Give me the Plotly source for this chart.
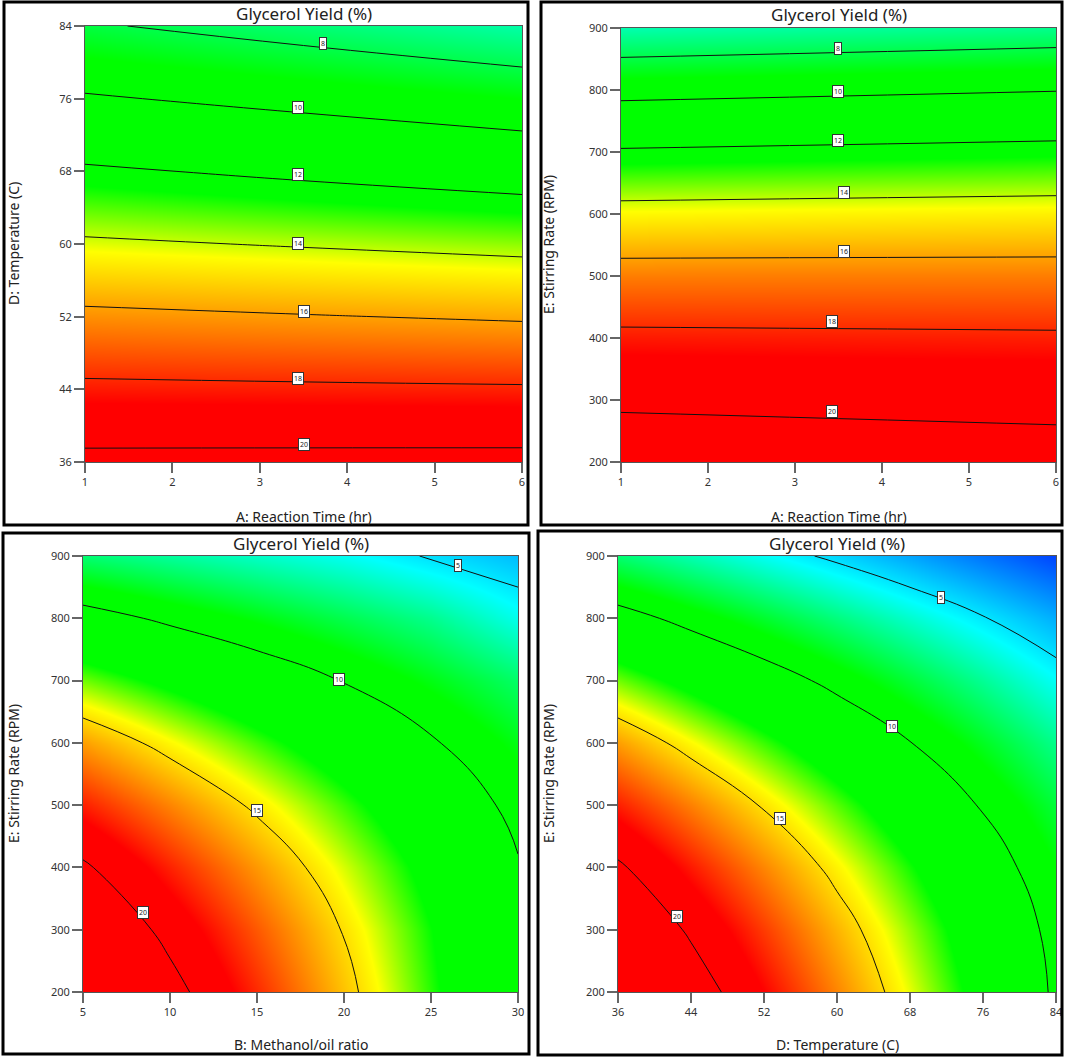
import plotly.graph_objs as go
from plotly.subplots import make_subplots

W, H = 1065, 1058

## values
time_vals = [1, 3.5, 6]
temp_vals = [36, 44, 52, 60, 68, 76, 84]
stir_vals = [200, 300, 400, 500, 600, 700, 800, 900]
ratio_vals = [5, 10, 15, 20, 25, 30]

# rows follow the y axis, columns the x axis
z_time_temp = [
    [20.4, 20.43, 20.45],
    [18.3, 18.22, 18.15],
    [16.3, 16.07, 15.85],
    [14.2, 13.9, 13.6],
    [12.2, 11.72, 11.25],
    [10.15, 9.58, 9.0],
    [8.14, 7.42, 6.7],
]
z_time_stir = [
    [20.8, 20.7, 20.6],
    [19.8, 19.7, 19.6],
    [18.3, 18.25, 18.2],
    [16.6, 16.6, 16.6],
    [14.5, 14.58, 14.65],
    [12.15, 12.3, 12.45],
    [9.55, 9.75, 9.95],
    [6.6, 6.85, 7.1],
]
z_ratio_stir = [
    [23.16, 20.58, 18.01, 15.43, 12.86, 10.28],
    [21.80, 19.51, 17.22, 14.92, 12.63, 10.34],
    [20.25, 18.14, 16.13, 14.11, 12.10, 10.12],
    [18.20, 16.47, 14.74, 13.02, 11.29, 9.56],
    [16.05, 14.51, 13.06, 11.62, 10.17, 8.72],
    [13.42, 12.26, 11.09, 9.93, 8.76, 7.60],
    [10.68, 9.70, 8.82, 7.94, 7.06, 5.75],
    [7.46, 6.86, 6.26, 5.66, 4.90, 4.25],
]
z_temp_stir = [
    [23.16, 20.93, 18.69, 16.46, 14.23, 11.99, 9.76],
    [21.80, 19.76, 17.71, 15.67, 13.63, 11.58, 9.54],
    [20.25, 18.29, 16.44, 14.58, 12.72, 10.87, 9.01],
    [18.20, 16.54, 14.87, 13.20, 11.53, 9.86, 8.20],
    [16.05, 14.48, 13.00, 11.52, 10.04, 8.56, 7.08],
    [13.42, 12.13, 10.84, 9.55, 8.26, 6.97, 5.60],
    [10.68, 9.48, 8.38, 7.28, 6.18, 5.08, 3.97],
    [7.46, 6.55, 5.63, 4.72, 3.81, 2.89, 1.98],
]

time_ticks = [1, 2, 3, 4, 5, 6]
temp_ticks = [36, 44, 52, 60, 68, 76, 84]
stir_ticks = [200, 300, 400, 500, 600, 700, 800, 900]
ratio_ticks = [5, 10, 15, 20, 25, 30]

## colour bands of the yield scale
zmin, zmax = 0.7, 23.5
stops = [(0.7, "#0000ff"), (5.5, "#00ffff"), (9.0, "#00ff00"), (12.6, "#00ff00"),
         (14.4, "#ffff00"), (18.7, "#ff0000"), (23.5, "#ff0000")]
scale = [[(v - zmin) / (zmax - zmin), c] for v, c in stops]

## one entry per panel: pixel boxes, then data
panels = [
    dict(box=(85, 26, 522, 462), frame=(4, 2, 528, 525), x=time_vals, y=temp_vals, z=z_time_temp,
         xticks=time_ticks, yticks=temp_ticks, xtitle="A: Reaction Time (hr)", ytitle="D: Temperature (C)",
         levels=(8, 20, 2), title_y=13, xtitle_y=516, ytitle_x=14,
         labels=[(3.72, 82.1, "8"), (3.44, 75, "10"), (3.44, 67.6, "12"), (3.44, 60.1, "14"),
                 (3.5, 52.6, "16"), (3.44, 45.2, "18"), (3.5, 37.9, "20")]),
    dict(box=(621, 28, 1056, 462), frame=(541, 2, 1062, 525), x=time_vals, y=stir_vals, z=z_time_stir,
         xticks=time_ticks, yticks=stir_ticks, xtitle="A: Reaction Time (hr)", ytitle="E: Stirring Rate (RPM)",
         levels=(8, 20, 2), title_y=14, xtitle_y=516, ytitle_x=548,
         labels=[(3.49, 867, "8"), (3.49, 798, "10"), (3.49, 719, "12"), (3.56, 635, "14"),
                 (3.56, 539, "16"), (3.43, 426, "18"), (3.43, 281, "20")]),
    dict(box=(83, 556, 518, 992), frame=(3, 533, 529, 1054), x=ratio_vals, y=stir_vals, z=z_ratio_stir,
         xticks=ratio_ticks, yticks=stir_ticks, xtitle="B: Methanol/oil ratio", ytitle="E: Stirring Rate (RPM)",
         levels=(5, 20, 5), title_y=543, xtitle_y=1044, ytitle_x=13,
         labels=[(26.55, 885, "5"), (19.7, 702, "10"), (15, 492, "15"), (8.45, 328, "20")]),
    dict(box=(618, 556, 1056, 992), frame=(538, 531, 1062, 1055), x=temp_vals, y=stir_vals, z=z_temp_stir,
         xticks=temp_ticks, yticks=stir_ticks, xtitle="D: Temperature (C)", ytitle="E: Stirring Rate (RPM)",
         levels=(5, 20, 5), title_y=543, xtitle_y=1044, ytitle_x=548,
         labels=[(71.4, 834, "5"), (66, 627, "10"), (53.7, 478, "15"), (42.5, 321, "20")]),
]

fig = make_subplots(rows=2, cols=2)
FONT = "Noto Sans, Open Sans, sans-serif"
notes = []
frames = []

for i, p in enumerate(panels):
    row, col = i // 2 + 1, i % 2 + 1
    x0, y0, x1, y1 = p["box"]
    fig.add_trace(go.Heatmap(x=p["x"], y=p["y"], z=p["z"], zmin=zmin, zmax=zmax, colorscale=scale,
                             zsmooth="best", showscale=False, hoverinfo="skip"), row=row, col=col)
    start, end, size = p["levels"]
    fig.add_trace(go.Contour(x=p["x"], y=p["y"], z=p["z"], showscale=False, hoverinfo="skip",
                             autocontour=False, contours=dict(coloring="none", start=start, end=end, size=size),
                             line=dict(color="#111111", width=1, smoothing=1.3)), row=row, col=col)
    axis_style = dict(ticks="outside", ticklen=10, tickwidth=1.5, tickcolor="#666666",
                      tickfont=dict(family=FONT, size=11, color="#333333"),
                      showgrid=False, zeroline=False, showline=True, linecolor="#555555", linewidth=1, mirror=True)
    fig.update_xaxes(domain=[x0 / W, x1 / W], range=[p["xticks"][0], p["xticks"][-1]], tickvals=p["xticks"],
                     row=row, col=col, **axis_style)
    fig.update_yaxes(domain=[1 - y1 / H, 1 - y0 / H], range=[p["yticks"][0], p["yticks"][-1]], tickvals=p["yticks"],
                     row=row, col=col, **axis_style)

    xref = "x" if i == 0 else "x%d" % (i + 1)
    yref = "y" if i == 0 else "y%d" % (i + 1)
    for lx, ly, txt in p["labels"]:
        notes.append(dict(x=lx, y=ly, xref=xref, yref=yref, text=txt, showarrow=False,
                          font=dict(family=FONT, size=7, color="#222222"), bgcolor="white",
                          bordercolor="#333333", borderwidth=1, borderpad=1))

    mid = (x0 + x1) / 2 / W
    midy = 1 - (y0 + y1) / 2 / H
    notes.append(dict(x=mid, y=1 - p["title_y"] / H, xref="paper", yref="paper", text="Glycerol Yield (%)",
                      xanchor="center", yanchor="middle", showarrow=False,
                      font=dict(family=FONT, size=17, color="#222222")))
    notes.append(dict(x=mid, y=1 - p["xtitle_y"] / H, xref="paper", yref="paper", text=p["xtitle"],
                      xanchor="center", yanchor="middle", showarrow=False,
                      font=dict(family=FONT, size=14, color="#222222")))
    notes.append(dict(x=p["ytitle_x"] / W, y=midy, xref="paper", yref="paper", text=p["ytitle"], textangle=-90,
                      xanchor="center", yanchor="middle", showarrow=False,
                      font=dict(family=FONT, size=14, color="#222222")))

    fx0, fy0, fx1, fy1 = p["frame"]
    frames.append(dict(type="rect", xref="paper", yref="paper", x0=fx0 / W, x1=fx1 / W, y0=1 - fy1 / H, y1=1 - fy0 / H,
                       line=dict(color="black", width=3)))

fig.update_layout(width=W, height=H, margin=dict(l=0, r=0, t=0, b=0, autoexpand=False),
                  paper_bgcolor="white", plot_bgcolor="white",
                  showlegend=False, annotations=notes, shapes=frames)
fig.write_html("out.html", config={"displayModeBar": False},
               post_script="document.body.style.margin='0';")
